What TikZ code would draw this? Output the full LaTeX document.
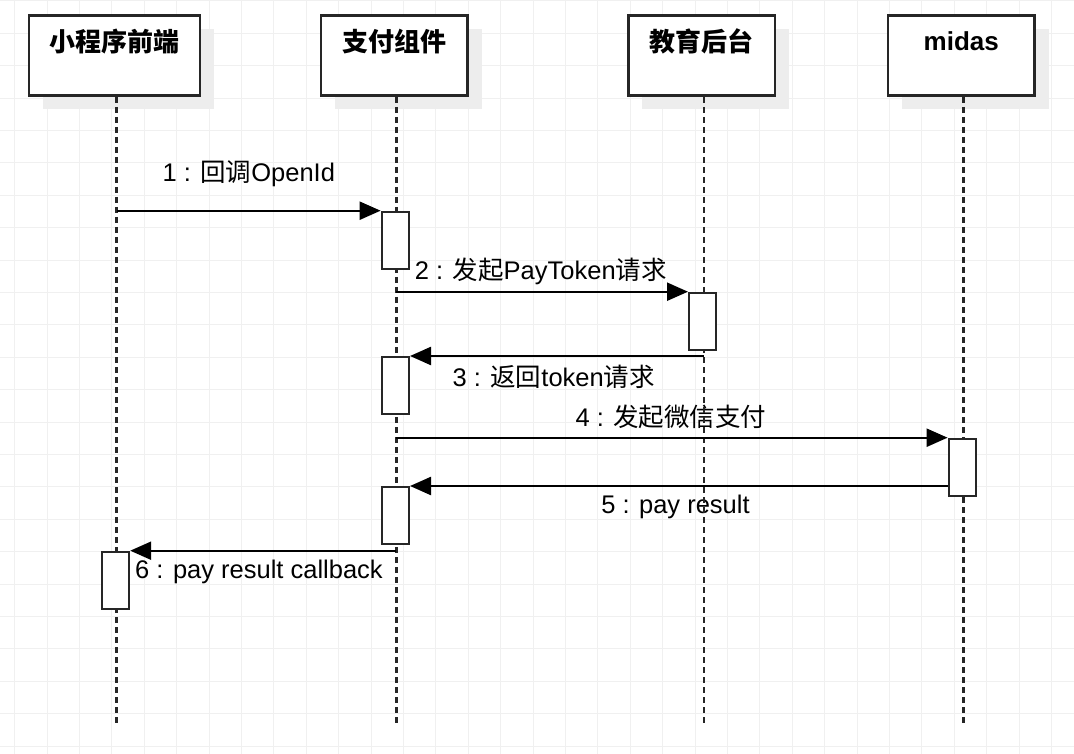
\documentclass[tikz,border=0pt]{standalone}
\usepackage{fontspec}
\setmainfont{Liberation Sans}
\newfontfamily\cjk{Noto Sans CJK SC}
\usetikzlibrary{arrows.meta,shadows}

\tikzset{
  actor/.style={draw=black!85, line width=2.6pt, fill=white, minimum width=146.5pt,
    minimum height=80pt, inner sep=0pt,
    drop shadow={shadow xshift=14pt, shadow yshift=-13pt, fill=black!7, opacity=1}},
  actorname/.style={font=\fontsize{26}{30}\selectfont\bfseries, inner sep=0pt},
  lifeline/.style={black!85, line width=2.4pt, dash pattern=on 6pt off 4pt},
  activation/.style={draw=black!85, line width=2.4pt, fill=white, minimum width=27pt,
    minimum height=57pt, inner sep=0pt, anchor=north},
  msg/.style={black, line width=2.3pt, -{Triangle[length=21pt,width=18pt]}},
  msglabel/.style={font=\fontsize{25.5}{30}\selectfont, inner sep=0pt},
  gridline/.style={black!6, line width=1pt}
}

\begin{document}
\begin{tikzpicture}[x=1pt,y=-1pt]
            \fill[white] (0,0) rectangle (1074,754);
            \useasboundingbox (0,0) rectangle (1074,754);

            % grid
            \foreach \gx in {0,...,32}
                \draw[gridline] ({14.7+32.4*\gx},0) -- ({14.7+32.4*\gx},754);
            \foreach \gy in {0,...,23}
                \draw[gridline] (0,{0.9+32.4*\gy}) -- (1074,{0.9+32.4*\gy});

            % actors
            \node[actor, minimum width=171pt] (front) at (114.5,55.7) {};
            \node[actor] (pay) at (394.3,55.7) {};
            \node[actor] (edu) at (701.7,55.7) {};
            \node[actor] (midas) at (961.3,55.7) {};

            \node[actorname] (frontname) at ([yshift=-27.3pt]front.north) {\cjk\bfseries 小程序前端};
            \node[actorname] (payname) at ([yshift=-27.3pt]pay.north) {\cjk\bfseries 支付组件};
            \node[actorname] (eduname) at ([yshift=-27.3pt]edu.north) {\cjk\bfseries 教育后台};
            \node[actorname] (midasname) at ([yshift=-27.3pt]midas.north) {midas};

            % message texts
            \node[msglabel] (txt1) at (248.8,174) {1 : {\cjk 回调}OpenId};
            \node[msglabel] (txt2) at (540.8,271.7) {2 : {\cjk 发起}PayToken{\cjk 请求}};
            \node[msglabel] (txt3) at (553.7,376.7) {3 : {\cjk 返回}token{\cjk 请求}};
            \node[msglabel] (txt4) at (671,416.7) {4 : {\cjk 发起微信支付}};
            \node[msglabel] (txt5) at (675.5,506.7) {5 : pay result};
            \node[msglabel] (txt6) at (259,571.7) {6 : pay result callback};

            % lifelines
            \coordinate (bottom) at (0,723.3);
            \coordinate (l1) at ([xshift=2pt]front.south);
            \coordinate (l2) at ([xshift=2pt]pay.south);
            \coordinate (l3) at ([xshift=2pt]edu.south);
            \coordinate (l4) at ([xshift=2pt]midas.south);
            \draw[lifeline] (l1) -- (l1 |- bottom);
            \draw[lifeline] (l2) -- (l2 |- bottom);
            \draw[lifeline] (l3) -- (l3 |- bottom);
            \draw[lifeline] (l4) -- (l4 |- bottom);

            % activations
            \node[activation] (act1) at (395.3,210.7) {};
            \node[activation] (act2) at (702.7,291.7) {};
            \node[activation] (act3) at (395.3,356) {};
            \node[activation] (act4) at (962.3,437.7) {};
            \node[activation] (act5) at (395.3,486) {};
            \node[activation] (act6) at (115.5,550.7) {};

            % messages
            \draw[msg] (l1 |- act1.north west) -- (act1.north west);
            \draw[msg] (l2 |- act2.north west) -- (act2.north west);
            \draw[msg] (l3 |- act3.north east) -- (act3.north east);
            \draw[msg] (l2 |- act4.north west) -- (act4.north west);
            \draw[msg] (act4.west |- act5.north) -- (act5.north east);
            \draw[msg] (l2 |- act6.north east) -- (act6.north east);
\end{tikzpicture}
\end{document}
